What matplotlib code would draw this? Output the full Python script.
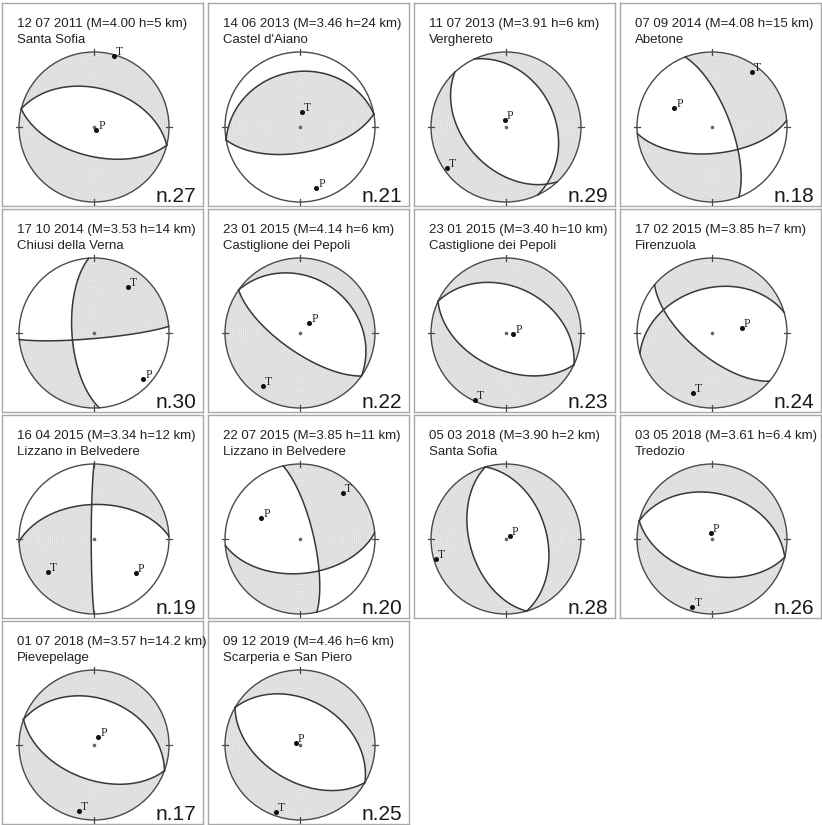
import numpy as np
import matplotlib.pyplot as plt

# event info
dates = ['12 07 2011', '14 06 2013', '11 07 2013', '07 09 2014',
         '17 10 2014', '23 01 2015', '23 01 2015', '17 02 2015',
         '16 04 2015', '22 07 2015', '05 03 2018', '03 05 2018',
         '01 07 2018', '09 12 2019']
mags = ['4.00', '3.46', '3.91', '4.08', '3.53', '4.14', '3.40', '3.85',
        '3.34', '3.85', '3.90', '3.61', '3.57', '4.46']
depths = ['5', '24', '6', '15', '14', '6', '10', '7', '12', '11', '2', '6.4', '14.2', '6']
places = ['Santa Sofia', "Castel d'Aiano", 'Verghereto', 'Abetone',
          'Chiusi della Verna', 'Castiglione dei Pepoli', 'Castiglione dei Pepoli', 'Firenzuola',
          'Lizzano in Belvedere', 'Lizzano in Belvedere', 'Santa Sofia', 'Tredozio',
          'Pievepelage', 'Scarperia e San Piero']
numbers = ['n.27', 'n.21', 'n.29', 'n.18', 'n.30', 'n.22', 'n.23', 'n.24',
           'n.19', 'n.20', 'n.28', 'n.26', 'n.17', 'n.25']

# nodal planes (strike, dip) estimated from the stereonets
strike1 = [284, 260, 137, 339, 176, 305, 295, 130, 180, 347, 164, 284, 290, 300]
dip1 = [47, 27, 44, 70, 66, 27, 38, 66, 87, 75, 50, 39, 38, 40]
strike2 = [104, 80, 335, 85, 85, 125, 115, 254, 268, 85, 344, 104, 110, 120]
dip2 = [58, 62, 35, 61, 84, 70, 50, 40, 52, 52, 45, 50, 52, 50]

# P and T axes (trend, plunge)
t_trend = [16, 8, 235, 36, 37, 215, 205, 198, 234, 43, 254, 196, 193, 200]
t_plunge = [2, 74, 4, 10, 25, 15, 1, 17, 25, 17, 3, 6, 10, 6]
p_trend = [143, 165, 349, 297, 133, 42, 100, 81, 129, 298, 56, 348, 27, 300]
p_plunge = [86, 17, 82, 43, 11, 75, 82, 57, 29, 41, 85, 83, 80, 85]


def axis_vec(trend, plunge):
    t, p = np.radians(trend), np.radians(plunge)
    return np.array([np.cos(p) * np.sin(t), np.cos(p) * np.cos(t), np.sin(p)])


def project(v):
    # lower hemisphere equal-area, radius 1 at the primitive
    e, n, d = v
    inc = np.arccos(np.clip(d, -1, 1))
    r = np.sqrt(2) * np.sin(inc / 2)
    h = np.hypot(e, n)
    h = np.where(h == 0, 1, h)
    return r * e / h, r * n / h


def plane_vecs(strike, dip):
    s, d = np.radians(strike), np.radians(dip)
    sv = np.array([np.sin(s), np.cos(s), 0.0])
    dv = np.array([np.cos(d) * np.cos(s), -np.cos(d) * np.sin(s), np.sin(d)])
    return sv, dv


W, H = 822, 825
fig = plt.figure(figsize=(W / 100, H / 100), dpi=100)
box_left = [2, 208, 414, 620]
box_top = [3, 209, 415, 621]
bw, bh = 201, 203
cx, cy, R = 92, 124, 75

g = np.linspace(-1.02, 1.02, 360)
X, Y = np.meshgrid(g, g)
RR = np.hypot(X, Y)
inc = 2 * np.arcsin(np.minimum(RR, 1) / np.sqrt(2))
az = np.arctan2(X, Y)
V = np.array([np.sin(inc) * np.sin(az), np.sin(inc) * np.cos(az), np.cos(inc)])

sans = ['Liberation Sans', 'DejaVu Sans']
serif = ['Liberation Serif', 'DejaVu Serif']

for i in range(len(dates)):
    row, col = divmod(i, 4)
    L, T = box_left[col], box_top[row]
    ax = fig.add_axes([L / W, 1 - (T + bh) / H, bw / W, bh / H])
    ax.set_xlim(0, bw)
    ax.set_ylim(bh, 0)
    ax.set_xticks([])
    ax.set_yticks([])
    for sp in ax.spines.values():
        sp.set_color('#a8a8a8')
        sp.set_linewidth(1.0)

    s1, d1 = plane_vecs(strike1[i], dip1[i])
    s2, d2 = plane_vecs(strike2[i], dip2[i])
    n1 = np.cross(s1, d1)
    n2 = np.cross(s2, d2)
    tv = axis_vec(t_trend[i], t_plunge[i])
    sign = np.sign(np.dot(tv, n1) * np.dot(tv, n2)) or 1
    F = np.tensordot(n1, V, axes=1) * np.tensordot(n2, V, axes=1) * sign

    circ = plt.Circle((cx, cy), R, fill=False, ec='#4a4a4a', lw=1.0, zorder=4)
    ax.add_patch(circ)

    # compressional quadrants: light fill with thin concentric rings
    px, py = cx + R * X, cy - R * Y
    cs = ax.contourf(px, py, F, levels=[0, F.max() + 1], colors=['#e6e6e6'], zorder=1)
    cs.set_clip_path(circ)
    rings = np.ma.masked_where(F <= 0, RR)
    cl = ax.contour(px, py, rings, levels=np.linspace(0.02, 0.99, 40),
                    colors='#cdcdcd', linewidths=0.3, zorder=2)
    cl.set_clip_path(circ)

    th = np.linspace(0, np.pi, 200)
    for sv, dv in [(s1, d1), (s2, d2)]:
        v = np.outer(sv, np.cos(th)) + np.outer(dv, np.sin(th))
        x, y = project(v)
        ax.plot(cx + R * x, cy - R * y, color='#383838', lw=1.1, zorder=5)

    for a in np.radians([0, 90, 180, 270]):
        ax.plot([cx + 0.96 * R * np.sin(a), cx + 1.04 * R * np.sin(a)],
                [cy - 0.96 * R * np.cos(a), cy - 1.04 * R * np.cos(a)],
                color='#4a4a4a', lw=0.9, zorder=5)
    ax.plot(cx, cy, 'o', ms=1.6, color='#666666', zorder=6)

    for lab, tr, pl in [('T', t_trend[i], t_plunge[i]), ('P', p_trend[i], p_plunge[i])]:
        x, y = project(axis_vec(tr, pl))
        x, y = cx + R * x, cy - R * y
        ax.plot(x, y, 'o', ms=2.6, color='#111111', zorder=7)
        ax.text(x + 2, y - 4, lab, fontsize=8.5, family=serif, color='#222222',
                ha='left', va='center', zorder=7)

    ax.text(15, cy - 103, f'{dates[i]} (M={mags[i]} h={depths[i]} km)',
            fontsize=9.5, family=sans, color='#222222', va='center')
    ax.text(15, cy - 87, places[i], fontsize=9.5, family=sans, color='#222222', va='center')
    ax.text(194, cy + 75, numbers[i], fontsize=15, family=sans, color='#1a1a1a',
            ha='right', va='baseline')

fig.savefig('out.png', dpi=100)
